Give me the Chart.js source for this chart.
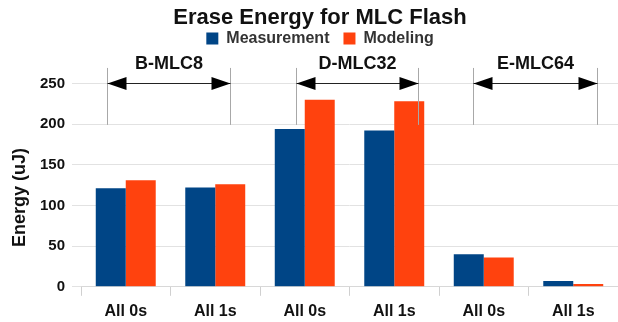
<!DOCTYPE html>
<html>
<head>
<meta charset="utf-8">
<script src="https://cdn.jsdelivr.net/npm/chart.js@4/dist/chart.umd.min.js"></script>
<style>
html,body{margin:0;padding:0;background:#fff;}
#wrap{width:618px;height:322px;}
</style>
</head>
<body>
<div id="wrap"><canvas id="erase"></canvas></div>
<script>
var categories = ['All 0s', 'All 1s', 'All 0s', 'All 1s', 'All 0s', 'All 1s'];
var measurement = [121, 122, 194, 192, 40, 7];
var modeling = [131, 126, 230, 228, 36, 3.5];
var yTicks = [0, 50, 100, 150, 200, 250];

// device groups drawn as brackets over the bars (x in category index, y in uJ)
var groups = ['B-MLC8', 'D-MLC32', 'E-MLC64'];
var groupFrom = [-0.21, 1.9, 3.88];
var groupTo = [1.16, 3.26, 5.27];
var bracketTop = 269, bracketBottom = 199, arrowLevel = 251, labelLevel = 274;

var FONT = '"Liberation Sans", Arial, sans-serif';

var legendGap = {
    id: 'legendGap',
    beforeInit: function(chart){
        var fit = chart.legend.fit;
        chart.legend.fit = function(){
            fit.bind(chart.legend)();
            this.height += 27;
        };
    }
};

var brackets = {
    id: 'brackets',
    afterDatasetsDraw: function(chart){
        var ctx = chart.ctx, xs = chart.scales.x, ys = chart.scales.y;
        var top = ys.getPixelForValue(bracketTop);
        var bot = ys.getPixelForValue(bracketBottom);
        var ay = Math.round(ys.getPixelForValue(arrowLevel)) + 0.5;
        var ly = ys.getPixelForValue(labelLevel);
        ctx.save();
        for (var i = 0; i < groups.length; i++) {
            var x0 = Math.round(xs.getPixelForValue(groupFrom[i])) + 0.5;
            var x1 = Math.round(xs.getPixelForValue(groupTo[i])) + 0.5;
            ctx.strokeStyle = '#a8a8a8';
            ctx.lineWidth = 1;
            ctx.beginPath();
            ctx.moveTo(x0, top); ctx.lineTo(x0, bot);
            ctx.moveTo(x1, top); ctx.lineTo(x1, bot);
            ctx.stroke();
            ctx.strokeStyle = '#222';
            ctx.beginPath();
            ctx.moveTo(x0, ay); ctx.lineTo(x1, ay);
            ctx.stroke();
            ctx.fillStyle = '#000';
            ctx.beginPath();
            ctx.moveTo(x0, ay); ctx.lineTo(x0 + 19, ay - 6.5); ctx.lineTo(x0 + 19, ay + 6.5);
            ctx.closePath(); ctx.fill();
            ctx.beginPath();
            ctx.moveTo(x1, ay); ctx.lineTo(x1 - 19, ay - 6.5); ctx.lineTo(x1 - 19, ay + 6.5);
            ctx.closePath(); ctx.fill();
            ctx.font = 'bold 18px ' + FONT;
            ctx.textAlign = 'center';
            ctx.textBaseline = 'middle';
            ctx.fillStyle = '#111';
            ctx.fillText(groups[i], (x0 + x1) / 2, ly);
        }
        ctx.restore();
    }
};

new Chart(document.getElementById('erase').getContext('2d'), {
    type: 'bar',
    data: {
        labels: categories,
        datasets: [
            {label: 'Measurement', data: measurement, backgroundColor: '#004586'},
            {label: 'Modeling', data: modeling, backgroundColor: '#ff420e'}
        ]
    },
    options: {
        responsive: true,
        maintainAspectRatio: false,
        animation: false,
        layout: {padding: {top: 0, left: 22, right: 0, bottom: -5}},
        datasets: {bar: {categoryPercentage: 0.67, barPercentage: 1.0}},
        plugins: {
            title: {
                display: true,
                text: 'Erase Energy for MLC Flash',
                color: '#111',
                font: {family: FONT, size: 22, weight: 'bold'},
                padding: {top: 5, bottom: -15}
            },
            legend: {
                position: 'top',
                labels: {
                    color: '#333',
                    font: {family: FONT, size: 16, weight: 'bold'},
                    boxWidth: 12, boxHeight: 12, padding: 14
                }
            },
            tooltip: {enabled: false}
        },
        scales: {
            x: {
                grid: {offset: true, drawOnChartArea: false, tickLength: 9, color: '#d0d0d0'},
                border: {color: '#d8d8d8'},
                ticks: {color: '#111', padding: 6, font: {family: FONT, size: 16, weight: 'bold'}}
            },
            y: {
                min: 0, max: 250,
                afterBuildTicks: function(s){ s.ticks = yTicks.map(function(v){ return {value: v}; }); },
                afterFit: function(s){ s.width = 59; },
                grid: {color: '#e2e2e2', tickLength: 9},
                border: {display: false},
                ticks: {color: '#111', padding: 7, font: {family: FONT, size: 15, weight: 'bold'}},
                title: {
                    display: true,
                    text: 'Energy (uJ)\u00a0\u00a0\u00a0\u00a0\u00a0',
                    color: '#111',
                    font: {family: FONT, size: 18, weight: 'bold'},
                    padding: {top: -13, bottom: 0}
                }
            }
        }
    },
    plugins: [legendGap, brackets]
});
</script>
</body>
</html>
